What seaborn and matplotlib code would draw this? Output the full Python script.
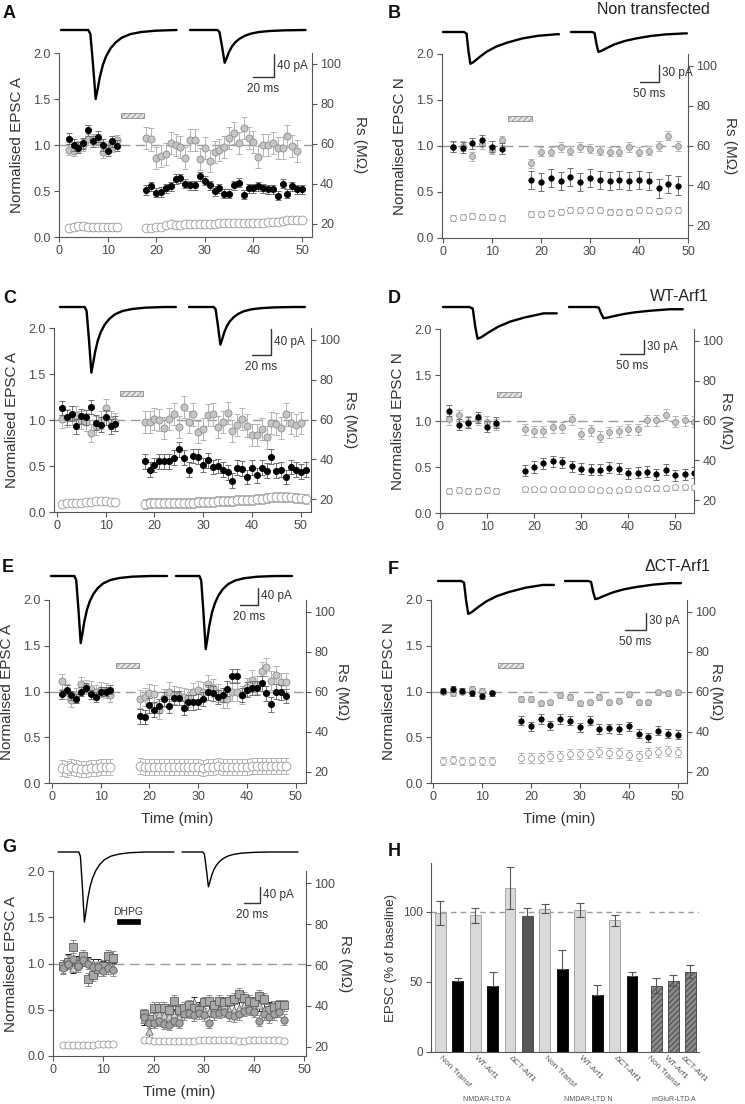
import numpy as np
import matplotlib
matplotlib.use('Agg')
import matplotlib.pyplot as plt
from matplotlib.patches import Rectangle
import seaborn as sns

# ---------------- data ----------------
# A: NMDAR-LTD, EPSC A, non transfected (1 min bins)
A_t_pre = list(range(2, 13))
A_t_post = list(range(18, 51))
A_black_pre = [1.07, 1.00, 0.97, 1.02, 1.16, 1.04, 1.09, 1.00, 0.94, 1.04, 0.99]
A_black_post = [0.51, 0.55, 0.48, 0.49, 0.53, 0.55, 0.63, 0.64, 0.58, 0.56, 0.56, 0.66, 0.61, 0.56, 0.50, 0.53, 0.47,
                0.47, 0.56, 0.59, 0.46, 0.53, 0.53, 0.55, 0.53, 0.52, 0.52, 0.45, 0.58, 0.47, 0.55, 0.52, 0.52]
A_gray_pre = [0.95, 0.94, 0.98, 1.00, 1.06, 1.06, 1.04, 0.92, 0.98, 0.98, 1.05]
A_gray_post = [1.08, 1.06, 0.86, 0.88, 0.90, 1.02, 1.00, 0.98, 0.86, 1.05, 1.05, 0.85, 0.97, 0.83, 0.92, 0.95, 0.98,
               1.08, 1.13, 1.02, 1.18, 1.08, 1.03, 0.87, 1.00, 1.00, 1.02, 0.97, 0.97, 1.10, 0.99, 0.93]
A_rs_pre = [17.8, 18.5, 19.0, 18.8, 18.5, 18.3, 18.3, 18.5, 18.5, 18.3, 18.3]
A_rs_post = [18.0, 18.0, 18.3, 18.5, 19.5, 20.0, 19.5, 19.5, 19.8, 19.8, 19.8, 20.0, 20.0, 20.2, 20.2, 20.3, 20.3,
             20.3, 20.3, 20.5, 20.5, 20.5, 20.5, 20.5, 20.5, 20.8, 21.0, 21.0, 21.3, 21.8, 22.0, 22.0, 21.8]
A_stim = (12.8, 17.5)

# B: NMDAR-LTD, EPSC N, non transfected (2 min bins)
B_t_pre = list(range(2, 13, 2))
B_t_post = list(range(18, 49, 2))
B_black_pre = [0.99, 0.98, 1.03, 1.06, 0.99, 0.97]
B_black_post = [0.63, 0.61, 0.65, 0.62, 0.66, 0.61, 0.65, 0.63, 0.62, 0.63, 0.62, 0.63, 0.62, 0.54, 0.59, 0.57]
B_gray_pre = [0.99, 1.00, 0.89, 1.02, 0.96, 1.06]
B_gray_post = [0.81, 0.94, 0.94, 0.99, 0.95, 0.99, 0.97, 0.95, 0.94, 0.94, 0.99, 0.94, 0.95, 1.00, 1.11, 1.00]
B_rs_pre = [23.5, 24.0, 24.5, 24.0, 24.0, 23.5]
B_rs_post = [25.5, 25.5, 26.0, 26.5, 27.5, 27.5, 27.5, 27.5, 26.5, 26.5, 26.5, 27.5, 27.5, 27.0, 27.5, 27.5]
B_stim = (13.3, 18.2)

# C: EPSC A, WT-Arf1
C_t_pre = list(range(1, 13))
C_t_post = list(range(18, 52))
C_t_post_gray = list(range(18, 51))
C_black_pre = [1.13, 1.03, 1.07, 0.93, 1.04, 1.03, 1.14, 0.97, 0.95, 1.03, 0.93, 0.96]
C_black_post = [0.55, 0.46, 0.51, 0.55, 0.55, 0.55, 0.59, 0.68, 0.59, 0.46, 0.61, 0.60, 0.51, 0.56, 0.49, 0.50, 0.46,
                0.43, 0.34, 0.48, 0.47, 0.38, 0.48, 0.40, 0.48, 0.45, 0.60, 0.45, 0.46, 0.38, 0.49, 0.46, 0.44, 0.46]
C_gray_pre = [1.01, 1.02, 1.05, 1.05, 1.00, 0.98, 0.86, 0.94, 1.00, 1.13, 1.00, 0.98]
C_gray_post = [0.98, 0.98, 1.01, 1.00, 0.91, 1.01, 1.07, 0.92, 1.14, 0.98, 1.06, 0.87, 0.90, 1.05, 1.06, 0.92, 0.98,
               1.08, 0.88, 0.95, 1.01, 0.94, 0.84, 0.84, 0.90, 0.81, 0.97, 0.96, 0.91, 1.06, 0.97, 0.95, 0.97]
C_rs_pre = [17.7, 17.8, 17.8, 18.0, 18.2, 18.5, 18.5, 18.8, 19.0, 18.8, 18.7, 18.7]
C_rs_post = [17.7, 17.8, 18.0, 18.0, 18.2, 18.2, 18.2, 18.0, 18.0, 18.0, 18.2, 18.3, 18.5, 18.5, 18.7, 18.8, 19.0,
             19.0, 19.2, 19.3, 19.5, 19.5, 19.7, 19.8, 20.2, 20.5, 20.8, 21.0, 21.0, 21.0, 20.8, 20.5, 20.3, 20.0]
C_stim = (12.9, 17.6)

# D: EPSC N, WT-Arf1
D_t_pre = list(range(2, 13, 2))
D_t_post = list(range(18, 55, 2))
D_black_pre = [1.11, 0.96, 0.98, 1.04, 0.94, 0.98]
D_black_post = [0.46, 0.50, 0.54, 0.56, 0.55, 0.51, 0.48, 0.47, 0.47, 0.49, 0.48, 0.43, 0.44, 0.45, 0.42, 0.47,
                0.41, 0.42, 0.44]
D_gray_pre = [1.02, 1.06, 0.99, 1.02, 0.99, 0.96]
D_gray_post = [0.91, 0.89, 0.89, 0.93, 0.93, 1.02, 0.86, 0.90, 0.83, 0.88, 0.89, 0.91, 0.91, 1.01, 1.01, 1.07,
               0.99, 1.01, 0.99]
D_rs_pre = [24.5, 25.0, 24.5, 24.5, 25.0, 24.5]
D_rs_post = [25.5, 25.5, 25.5, 25.5, 25.5, 25.5, 25.5, 25.5, 25.0, 25.0, 25.0, 25.5, 25.5, 26.0, 26.0, 26.0, 26.5,
             26.5, 26.5]
D_stim = (12.2, 17.2)

# E: EPSC A, dCT-Arf1
E_t_pre = list(range(2, 13))
E_t_post = list(range(18, 49))
E_black_pre = [0.97, 1.02, 0.96, 0.92, 1.00, 1.04, 0.97, 0.94, 1.00, 1.00, 1.02]
E_black_post = [0.73, 0.72, 0.85, 0.80, 0.84, 0.92, 0.84, 0.93, 0.93, 0.82, 0.88, 0.88, 0.89, 0.92, 0.99, 0.98, 0.94,
                0.96, 1.03, 1.17, 1.17, 0.96, 1.02, 1.04, 1.04, 1.09, 0.98, 0.86, 1.00, 0.99, 0.95]
E_gray_pre = [1.11, 1.00, 0.91, 0.96, 1.08, 1.05, 1.03, 0.99, 1.02, 1.01, 0.96]
E_gray_post = [0.92, 0.94, 0.98, 0.97, 0.80, 0.93, 1.00, 0.96, 0.95, 0.94, 0.93, 0.99, 1.02, 1.00, 1.08, 1.04, 0.98,
               0.92, 0.92, 1.00, 1.00, 0.96, 1.05, 1.13, 1.07, 1.22, 1.27, 1.12, 1.18, 1.10, 1.10]
E_rs_pre = [22.0, 21.5, 22.5, 22.0, 21.5, 21.5, 22.0, 22.0, 22.5, 22.5, 22.5]
E_rs_post = [22.8, 22.5, 22.5, 22.5, 22.5, 22.5, 22.5, 22.3, 22.3, 22.3, 22.5, 22.5, 22.3, 22.0, 22.3, 22.5, 23.0,
             22.5, 22.5, 22.3, 22.5, 22.5, 22.5, 22.8, 23.0, 23.0, 22.8, 22.8, 22.8, 22.8, 22.8]
E_stim = (13.1, 17.9)

# F: EPSC N, dCT-Arf1
F_t_pre = list(range(2, 13, 2))
F_t_post = list(range(18, 51, 2))
F_black_pre = [1.01, 1.03, 1.01, 0.98, 0.95, 0.98]
F_black_post = [0.68, 0.62, 0.70, 0.63, 0.70, 0.68, 0.61, 0.68, 0.59, 0.60, 0.59, 0.62, 0.54, 0.50, 0.57, 0.54, 0.53]
F_gray_pre = [1.00, 0.98, 1.00, 1.03, 1.01, 0.98]
F_gray_post = [0.92, 0.92, 0.87, 0.88, 0.96, 0.94, 0.87, 0.88, 0.94, 0.88, 0.90, 0.97, 0.88, 0.88, 0.99, 0.98, 0.99]
F_rs_pre = [25.5, 26.0, 25.5, 25.5, 25.5, 25.5]
F_rs_post = [27.0, 27.0, 27.0, 28.0, 28.0, 29.0, 29.0, 29.0, 30.0, 29.5, 29.5, 28.5, 28.0, 29.5, 30.0, 30.5, 30.0]
F_stim = (13.3, 18.4)

# G: mGluR-LTD (DHPG), EPSC A, three groups
G_t_pre = list(range(2, 13))
G_t_post = list(range(18, 47))
G_sq_pre = [0.97, 1.02, 1.18, 1.00, 1.08, 0.83, 0.88, 0.94, 0.97, 1.08, 1.06]
G_sq_post = [0.45, 0.40, 0.52, 0.52, 0.52, 0.50, 0.60, 0.50, 0.52, 0.55, 0.52, 0.50, 0.58, 0.60, 0.55, 0.60, 0.58,
             0.60, 0.62, 0.67, 0.63, 0.60, 0.58, 0.65, 0.62, 0.50, 0.53, 0.55, 0.55]
G_ci_pre = [0.95, 1.00, 1.05, 0.97, 1.04, 1.00, 0.96, 0.96, 0.92, 0.95, 0.93]
G_ci_post = [0.42, 0.36, 0.36, 0.38, 0.35, 0.34, 0.38, 0.36, 0.45, 0.47, 0.44, 0.46, 0.44, 0.36, 0.45, 0.47, 0.48,
             0.44, 0.43, 0.45, 0.49, 0.50, 0.48, 0.38, 0.45, 0.42, 0.45, 0.48, 0.39]
G_tr_pre = [0.99, 1.05, 0.95, 1.03, 1.02, 1.02, 1.00, 1.00, 0.98, 0.97, 0.96]
G_tr_post = [0.40, 0.27, 0.43, 0.45, 0.44, 0.43, 0.45, 0.42, 0.48, 0.50, 0.58, 0.52, 0.50, 0.48, 0.52, 0.50, 0.55,
             0.50, 0.50, 0.52, 0.55, 0.57, 0.52, 0.55, 0.50, 0.52, 0.53, 0.55, 0.55]
G_rs_pre = [20.8, 20.8, 20.8, 20.8, 20.8, 20.8, 21.0, 21.5, 21.5, 21.5, 21.5]
G_rs_post = [23.3, 23.3, 23.0, 23.0, 23.0, 23.0, 23.0, 22.8, 22.8, 23.0, 23.0, 23.3, 23.3, 23.3, 23.5, 23.5, 23.5,
             23.5, 23.3, 23.0, 23.0, 23.3, 23.3, 23.3, 23.3, 23.3, 23.3, 23.3, 23.0]
G_stim = (12.7, 17.3)

# example sweeps: time (ms) and current as fraction of peak
ampa_t = [0, 26, 28, 30.5, 33, 35, 37, 40, 43, 47, 52, 58, 66, 76, 90, 110]
ampa_f = [0, 0, -0.06, -0.5, -1.0, -0.85, -0.68, -0.5, -0.38, -0.27, -0.18, -0.11, -0.06, -0.03, -0.01, 0]
nmda_t = [0, 55, 62, 67, 72, 80, 95, 115, 140, 170, 210, 250, 300]
nmda_f = [0, 0, -0.05, -0.6, -1.0, -0.95, -0.8, -0.62, -0.46, -0.33, -0.2, -0.12, -0.07]
A_peaks = [120, 57]
B_peaks = [56, 35]
C_peaks = [101, 58]
D_peaks = [68, 24]
E_peaks = [158, 172]
F_peaks = [58, 32]
G_peaks = [175, 87]

# H: summary bars (% of baseline)
H_labels = ['Non Transf', 'WT-Arf1', '\u0394CT-Arf1']
H_groups = ['NMDAR-LTD A', 'NMDAR-LTD N', 'mGluR-LTD A']
H_ctrl = [99.5, 97.6, 117.4, 102.4, 101.2, 94.0]
H_ctrl_err = [8.5, 5.5, 15.0, 3.0, 5.0, 4.0]
H_ltd = [50.6, 47.0, 97.1, 59.0, 40.6, 54.2]
H_ltd_err = [2.6, 10.0, 6.0, 14.0, 7.0, 3.0]
H_mglur = [47.5, 51.0, 57.5]
H_mglur_err = [5.5, 4.0, 4.5]

# ---------------- style ----------------
sns.set_theme(style='ticks')
plt.rcParams['font.family'] = ['Liberation Sans', 'DejaVu Sans']
plt.rcParams['hatch.linewidth'] = 0.6
plt.rcParams['axes.edgecolor'] = '#555555'
plt.rcParams['axes.linewidth'] = 0.8

W, H = 745, 1104
fig = plt.figure(figsize=(W / 100, H / 100), dpi=100)


def box(l, t, r, b):
    return [l / W, 1 - b / H, (r - l) / W, (b - t) / H]


STYLE = {
    'black': dict(marker='o', color='black', edgecolor='black', ecolor='#6e6e6e'),
    'gray': dict(marker='o', color='#c6c6c6', edgecolor='#8c8c8c', ecolor='#b4b4b4'),
    'rs': dict(marker='o', color='white', edgecolor='#9a9a9a', ecolor='#b4b4b4'),
    'sq': dict(marker='s', color='#a8a8a8', edgecolor='#5c5c5c', ecolor='#8c8c8c'),
    'ci': dict(marker='o', color='#a2a2a2', edgecolor='#5c5c5c', ecolor='#8c8c8c'),
    'tr': dict(marker='^', color='#d0d0d0', edgecolor='#6c6c6c', ecolor='#222222'),
}


def draw_series(ax, t, v, err, kind, size, z):
    st = STYLE[kind]
    ax.errorbar(t, v, yerr=err, fmt='none', ecolor=st['ecolor'], elinewidth=0.7,
                capsize=2.0, capthick=0.7, zorder=z)
    sns.scatterplot(x=t, y=v, ax=ax, marker=st['marker'], color=st['color'],
                    edgecolor=st['edgecolor'], linewidth=0.6, s=size, zorder=z + 0.5, legend=False)


def style_axis(ax, size=9):
    ax.tick_params(direction='out', length=3.5, width=0.8, color='#555555',
                   labelcolor='#4a4a4a', labelsize=size, pad=2.5)


def draw_traces(p):
    tr = p['trace']
    l, t, r, b = p['box']
    top = tr['y0'] - 25
    tax = fig.add_axes(box(l, top, r, b))
    tax.set_xlim((l - tr['x0']) / tr['ms_px'], (r - tr['x0']) / tr['ms_px'])
    tax.set_ylim(-(b - tr['y0']) / tr['pa_px'], (tr['y0'] - top) / tr['pa_px'])
    tax.axis('off')
    tax.patch.set_visible(False)
    shape_t, shape_f = tr['shape']
    off2 = (tr['x1'] - tr['x0']) / tr['ms_px']
    for off, amp in zip([0, off2], tr['peaks']):
        ts = [x for x in shape_t if x <= tr['len']]
        fs = list(shape_f[:len(ts)])
        if ts[-1] < tr['len']:
            ts.append(tr['len'])
            fs.append(fs[-1])
        sns.lineplot(x=np.array(ts) + off, y=np.array(fs) * amp, ax=tax, color='black',
                     lw=tr['lw'], sort=False, estimator=None)
    # scale bar
    ms_len, pa_len = tr['scale']
    bx = (tr['bar'][0] - tr['x0']) / tr['ms_px']
    by = -(tr['bar'][1] - tr['y0']) / tr['pa_px']
    tax.plot([bx - ms_len, bx, bx], [by, by, by + pa_len], color='#333333', lw=1.0)
    tax.annotate(f'{pa_len} pA', (bx, by + pa_len / 2), xytext=(2, 0), textcoords='offset points',
                 ha='left', va='center', fontsize=8.5, color='#333333')
    tax.annotate(f'{ms_len} ms', (bx - ms_len / 2, by), xytext=(0, -4), textcoords='offset points',
                 ha='center', va='top', fontsize=8.5, color='#333333')


def timecourse(p):
    ax = fig.add_axes(box(*p['box']))
    ax2 = ax.twinx()
    s_black, s_gray, s_rs = p['sizes']
    ax.axhline(1.0, color='#9a9a9a', lw=1.0, dashes=(7, 4), zorder=1)
    for t, v, err, kind in p['series']:
        size = {'black': s_black, 'rs': s_rs}.get(kind, s_gray)
        z = 4 if kind == 'black' else 3
        draw_series(ax, t, v, err, kind, size, z)
    for t, v, err in p['rs']:
        draw_series(ax2, t, v, err, 'rs', s_rs, 3)
    x0, x1 = p['stim']
    if p.get('drug'):
        ax.add_patch(Rectangle((x0, p['stim_y'] - 0.028), x1 - x0, 0.056, facecolor='black',
                               edgecolor='black', lw=0.5, zorder=5))
        ax.text((x0 + x1) / 2, p['stim_y'] + 0.05, p['drug'], ha='center', va='bottom',
                fontsize=7.5, color='#333333')
    else:
        ax.add_patch(Rectangle((x0, p['stim_y'] - 0.028), x1 - x0, 0.056, facecolor='#e4e4e4',
                               edgecolor='#8a8a8a', hatch='//////', lw=0.6, zorder=5))
    ax.set_xlim(*p['xlim'])
    ax.set_ylim(0, 2.0)
    ax.set_yticks([0, 0.5, 1.0, 1.5, 2.0])
    ax.set_yticklabels(['0.0', '0.5', '1.0', '1.5', '2.0'])
    ax.set_xticks([0, 10, 20, 30, 40, 50])
    ax2.set_ylim(*p['rlim'])
    ax2.set_yticks([20, 40, 60, 80, 100])
    for a in (ax, ax2):
        a.spines['top'].set_visible(False)
        style_axis(a)
    ax.spines['right'].set_visible(False)
    ax2.spines['left'].set_visible(False)
    ax2.spines['bottom'].set_visible(False)
    ax.set_ylabel(p['ylabel'], fontsize=11, color='#333333', labelpad=7)
    ax2.set_ylabel('Rs (M\u03a9)', fontsize=11, color='#333333', rotation=270, labelpad=p['rpad'])
    if p.get('xlabel'):
        ax.set_xlabel(p['xlabel'], fontsize=11, color='#333333', labelpad=6)
    draw_traces(p)


def tr(x0, x1, y0, ms_px, pa_px, peaks, length, bar, scale, shape, lw=1.7):
    return dict(x0=x0, x1=x1, y0=y0, ms_px=ms_px, pa_px=pa_px, peaks=peaks, len=length,
                bar=bar, scale=scale, shape=shape, lw=lw)


AMPA = (ampa_t, ampa_f)
NMDA = (nmda_t, nmda_f)

panels = [
    dict(box=(59, 53, 311.7, 237), xlim=(0, 52), rlim=(13.5, 105.5), ylabel='Normalised EPSC A',
         stim=A_stim, stim_y=1.32, sizes=(20, 26, 40), rpad=19,
         series=[(A_t_pre, A_gray_pre, 0.06, 'gray'), (A_t_post[:-1], A_gray_post, 0.12, 'gray'),
                 (A_t_pre, A_black_pre, 0.06, 'black'), (A_t_post, A_black_post, 0.05, 'black')],
         rs=[(A_t_pre, A_rs_pre, 2.0), (A_t_post, A_rs_post, 1.5)],
         trace=tr(61, 190, 30, 1.05, 0.575, A_peaks, 110, (274, 77), (20, 40), AMPA)),
    dict(box=(442, 54, 688, 238), xlim=(-0.2, 50), rlim=(13.5, 106), ylabel='Normalised EPSC N',
         stim=B_stim, stim_y=1.30, sizes=(15, 18, 18), rpad=14,
         series=[(B_t_pre, B_gray_pre, 0.05, 'gray'), (B_t_post, B_gray_post, 0.05, 'gray'),
                 (B_t_pre, B_black_pre, 0.06, 'black'), (B_t_post, B_black_post, 0.1, 'black')],
         rs=[(B_t_pre, B_rs_pre, 1.5), (B_t_post, B_rs_post, 1.5)],
         trace=tr(443, 571, 32, 0.38, 0.567, B_peaks, 305, (659, 82), (50, 30), NMDA)),
    dict(box=(54, 328, 311, 512), xlim=(-0.6, 52.1), rlim=(13.5, 106), ylabel='Normalised EPSC A',
         stim=C_stim, stim_y=1.29, sizes=(20, 26, 40), rpad=12,
         series=[(C_t_pre, C_gray_pre, 0.1, 'gray'), (C_t_post_gray, C_gray_post, 0.12, 'gray'),
                 (C_t_pre, C_black_pre, 0.08, 'black'), (C_t_post, C_black_post, 0.08, 'black')],
         rs=[(C_t_pre, C_rs_pre, 1.5), (C_t_post, C_rs_post, 2.5)],
         trace=tr(60, 189, 307, 0.95, 0.65, C_peaks, 122, (271, 355), (20, 40), AMPA)),
    dict(box=(440, 329, 694, 513), xlim=(0, 54), rlim=(13.5, 106), ylabel='Normalised EPSC N',
         stim=D_stim, stim_y=1.29, sizes=(15, 18, 18), rpad=7,
         series=[(D_t_pre, D_gray_pre, 0.06, 'gray'), (D_t_post, D_gray_post, 0.06, 'gray'),
                 (D_t_pre, D_black_pre, 0.06, 'black'), (D_t_post, D_black_post, 0.06, 'black')],
         rs=[(D_t_pre, D_rs_pre, 1.5), (D_t_post, D_rs_post, 1.2)],
         trace=tr(443, 569, 307, 0.48, 0.467, D_peaks, 237, (644, 354), (50, 30), NMDA)),
    dict(box=(49, 600, 306, 783), xlim=(-0.6, 52.1), rlim=(14.5, 106), ylabel='Normalised EPSC A',
         xlabel='Time (min)', stim=E_stim, stim_y=1.28, sizes=(20, 26, 40), rpad=10,
         series=[(E_t_pre, E_gray_pre, 0.08, 'gray'), (E_t_post, E_gray_post, 0.1, 'gray'),
                 (E_t_pre, E_black_pre, 0.05, 'black'), (E_t_post, E_black_post, 0.08, 'black')],
         rs=[(E_t_pre, E_rs_pre, 4.0), (E_t_post, E_rs_post, 4.0)],
         trace=tr(51, 176, 576, 0.9, 0.425, E_peaks, 129, (258, 605), (20, 40), AMPA)),
    dict(box=(431, 600, 687, 783), xlim=(-0.4, 51.9), rlim=(14.5, 106), ylabel='Normalised EPSC N',
         xlabel='Time (min)', stim=F_stim, stim_y=1.28, sizes=(15, 18, 18), rpad=5,
         series=[(F_t_pre, F_gray_pre, 0.03, 'gray'), (F_t_post, F_gray_post, 0.03, 'gray'),
                 (F_t_pre, F_black_pre, 0.03, 'black'), (F_t_post, F_black_post, 0.05, 'black')],
         rs=[(F_t_pre, F_rs_pre, 2.0), (F_t_post, F_rs_post, 2.5)],
         trace=tr(438, 565, 581, 0.42, 0.567, F_peaks, 276, (646, 630), (50, 30), NMDA)),
    dict(box=(53, 871, 306, 1056), xlim=(0, 50.3), rlim=(15.5, 106), ylabel='Normalised EPSC A',
         xlabel='Time (min)', stim=G_stim, stim_y=1.45, drug='DHPG', sizes=(22, 28, 26), rpad=12,
         series=[(G_t_pre, G_tr_pre, 0.05, 'tr'), (G_t_post, G_tr_post, 0.06, 'tr'),
                 (G_t_pre, G_sq_pre, 0.07, 'sq'), (G_t_post, G_sq_post, 0.06, 'sq'),
                 (G_t_pre, G_ci_pre, 0.06, 'ci'), (G_t_post, G_ci_post, 0.06, 'ci')],
         rs=[(G_t_pre, G_rs_pre, 0.8), (G_t_post, G_rs_post, 0.8)],
         trace=tr(58, 182, 852, 0.8, 0.4, G_peaks, 145, (260, 903), (20, 40), AMPA, lw=1.0)),
]

for p in panels:
    timecourse(p)

# ---------------- panel H ----------------
axh = fig.add_axes(box(431, 863, 699, 1052))
h_pos = list(np.arange(12)) + list(12.4 + 0.97 * np.arange(3))
h_vals, h_err, roles = [], [], []
for c, ce, v, ve in zip(H_ctrl, H_ctrl_err, H_ltd, H_ltd_err):
    h_vals += [c, v]
    h_err += [ce, ve]
    roles += ['ctrl', 'ltd']
roles[5] = 'dct'
h_vals += H_mglur
h_err += H_mglur_err
roles += ['mglur'] * 3

sns.barplot(x=h_pos, y=h_vals, native_scale=True, orient='x', width=0.64, errorbar=None,
            color='#d9d9d9', ax=axh)
face = {'ctrl': '#d9d9d9', 'ltd': '#000000', 'dct': '#555555', 'mglur': '#8a8a8a'}
edge = {'ctrl': '#9a9a9a', 'ltd': '#000000', 'dct': '#444444', 'mglur': '#3c3c3c'}
for patch, role in zip(axh.patches, roles):
    patch.set_facecolor(face[role])
    patch.set_edgecolor(edge[role])
    patch.set_linewidth(0.6)
    if role == 'mglur':
        patch.set_hatch('//////')
lower = [0 if r in ('ltd', 'dct') else e for r, e in zip(roles, h_err)]
axh.errorbar(h_pos, h_vals, yerr=[lower, h_err], fmt='none', ecolor='#555555', elinewidth=0.8,
             capsize=3, capthick=0.8, zorder=5)
axh.hlines(100, -0.53, 11.46, colors='#9a9a9a', lw=1.0, linestyles=(0, (4, 3)), zorder=0.5)
axh.hlines(100, 11.96, 14.84, colors='#9a9a9a', lw=1.0, linestyles=(0, (4, 3)), zorder=0.5)
axh.set_xlim(-0.53, 14.84)
axh.set_ylim(0, 135)
axh.set_yticks([0, 50, 100])
axh.set_xticks([])
axh.spines['top'].set_visible(False)
axh.spines['right'].set_visible(False)
style_axis(axh, 8.5)
axh.set_ylabel('EPSC (% of baseline)', fontsize=9.5, color='#333333', labelpad=4)
xt = axh.get_xaxis_transform()
for k in range(6):
    axh.text(2 * k + 0.15, -0.015, H_labels[k % 3], transform=xt, rotation=-45, rotation_mode='anchor',
             ha='left', va='top', fontsize=6, color='#555555')
for k in range(3):
    axh.text(h_pos[12 + k] - 0.35, -0.015, H_labels[k], transform=xt, rotation=-45, rotation_mode='anchor',
             ha='left', va='top', fontsize=6, color='#555555')
for gx, g in zip([2.68, 8.5, 13.4], H_groups):
    axh.text(gx, -0.249, g, transform=xt, ha='center', va='center', fontsize=5, color='#555555')

# ---------------- panel letters and titles ----------------
for letter, (lx, ly) in zip('ABCDEFGH', [(3, 5), (388, 5), (3, 290), (388, 290), (2, 559), (388, 561),
                                        (2, 839), (388, 843)]):
    fig.text(lx / W, 1 - ly / H, letter, fontsize=13, weight='bold', ha='left', va='top', color='#111111')
for title, (tx, ty) in zip(['Non transfected', 'WT-Arf1', '\u0394CT-Arf1'], [(710, 2), (709, 289), (710, 559)]):
    fig.text(tx / W, 1 - ty / H, title, fontsize=11.5, ha='right', va='top', color='#222222')

fig.savefig('out.png', dpi=100)
